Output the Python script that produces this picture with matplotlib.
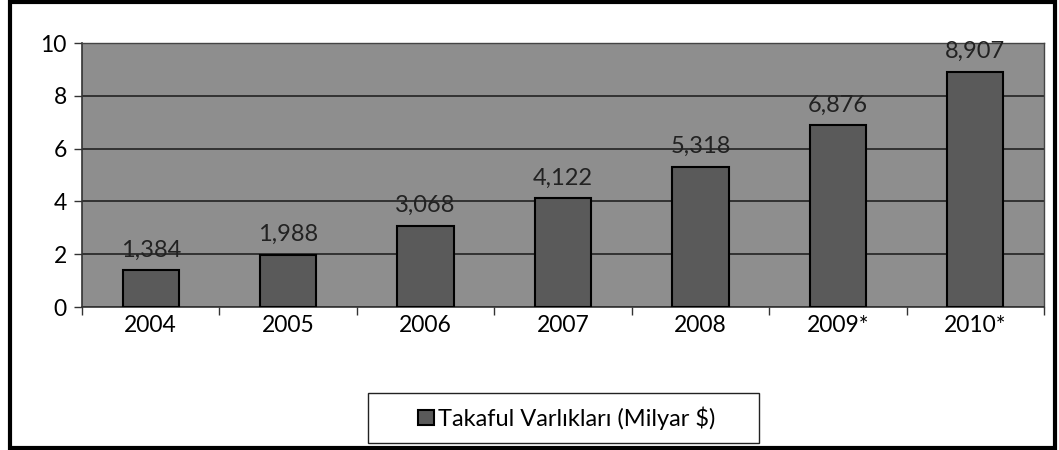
import matplotlib.pyplot as plt
from matplotlib.patches import Rectangle
import numpy as np

plt.rcParams['font.family'] = ['Lato', 'DejaVu Sans']

years = ['2004', '2005', '2006', '2007', '2008', '2009*', '2010*']
assets = [1.384, 1.988, 3.068, 4.122, 5.318, 6.876, 8.907]
value_labels = ['1,384', '1,988', '3,068', '4,122', '5,318', '6,876', '8,907']
series_name = 'Takaful Varlıkları (Milyar $)'

fig = plt.figure(figsize=(10.59, 4.5), dpi=100)
ax = fig.add_axes([82 / 1059, 1 - 307 / 450, 962 / 1059, 264 / 450])
ax.set_facecolor('#8e8e8e')

ind = np.arange(len(years))
bars = ax.bar(ind, assets, 0.41, color='#5a5a5a', edgecolor='black',
              linewidth=1.5, label=series_name, zorder=3)

for rect, txt in zip(bars, value_labels):
    ax.annotate(txt, (rect.get_x() + rect.get_width() / 2, rect.get_height()),
                xytext=(0, 7), textcoords='offset points',
                ha='center', va='bottom', fontsize=17, color='#222222', zorder=4)

ax.set_xlim(-0.5, len(years) - 0.5)
ax.set_ylim(0, 10)
ax.set_yticks([0, 2, 4, 6, 8, 10])
ax.yaxis.grid(True, color='#222222', linewidth=1.2, zorder=1)
ax.set_axisbelow(True)

ax.set_xticks(ind)
ax.set_xticklabels(years, fontsize=16.5)
ax.set_xticks(np.arange(-0.5, len(years)), minor=True)
ax.tick_params(axis='x', which='major', length=0, pad=6)
ax.tick_params(axis='x', which='minor', length=6, width=1, color='#333333')
ax.tick_params(axis='y', length=6, width=1, labelsize=16.5, pad=5, color='#333333')

for side in ['top', 'right']:
    ax.spines[side].set_color('#444444')
    ax.spines[side].set_linewidth(1)
ax.spines['left'].set_color('#333333')
ax.spines['bottom'].set_color('#333333')
ax.spines['left'].set_linewidth(1.2)
ax.spines['bottom'].set_linewidth(1.2)

# legend box drawn separately so it can be wider than its content
fig.patches.append(Rectangle((368 / 1059, 7 / 450), 391 / 1059, 50 / 450,
                             transform=fig.transFigure, facecolor='white',
                             edgecolor='#222222', linewidth=1))
leg = fig.legend(handles=[bars], labels=[series_name], loc='center',
                 bbox_to_anchor=(567 / 1059, 1 - 418 / 450), fontsize=17,
                 frameon=False, handlelength=0.65, handleheight=0.65,
                 handletextpad=0.2, borderpad=0.3, borderaxespad=0)
leg.legend_handles[0].set_linewidth(1.5)

fig.patches.append(Rectangle((10 / 1059, 2 / 450), 1045 / 1059, 446 / 450,
                             transform=fig.transFigure, fill=False,
                             edgecolor='black', linewidth=3))

fig.savefig('out.png', dpi=100)
